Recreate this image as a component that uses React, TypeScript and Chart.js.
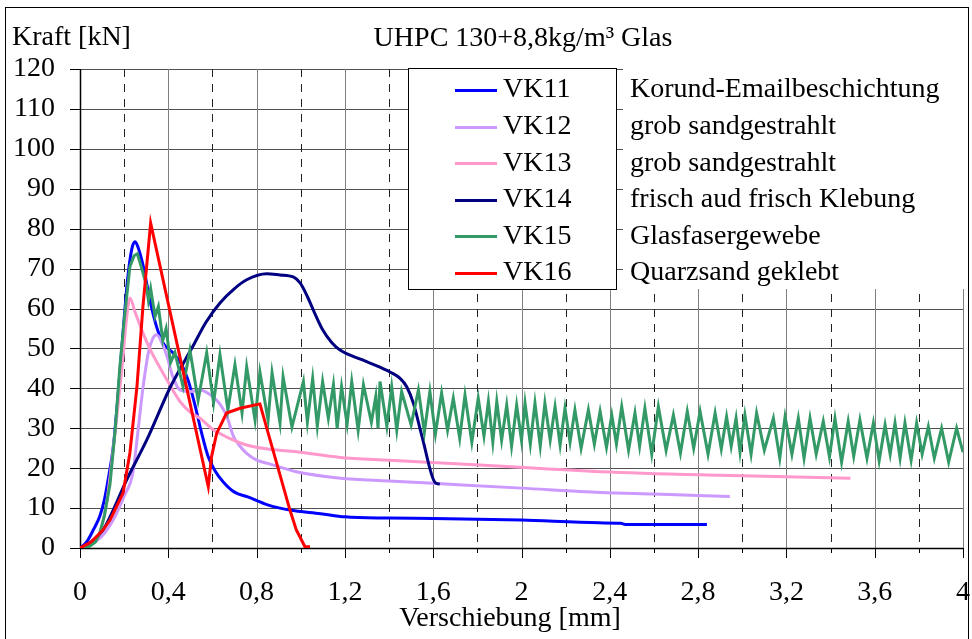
import React, { useEffect, useRef } from 'react';
import { Chart, registerables } from 'chart.js';

Chart.register(...registerables);

const FONT = "'Liberation Serif', 'Times New Roman', serif";

const chartTitle = 'UHPC 130+8,8kg/m³ Glas';
const yAxisTitle = 'Kraft [kN]';
const xAxisTitle = 'Verschiebung [mm]';

const seriesLabels = ['VK11', 'VK12', 'VK13', 'VK14', 'VK15', 'VK16'];
const seriesNotes = [
  'Korund-Emailbeschichtung',
  'grob sandgestrahlt',
  'grob sandgestrahlt',
  'frisch aud frisch Klebung',
  'Glasfasergewebe',
  'Quarzsand geklebt',
];
const seriesColors = ['#0000FF', '#CC99FF', '#FF99CC', '#000080', '#339966', '#FF0000'];
const seriesSmooth = [true, true, true, true, false, false];

const xTickLabels = ['0', '0,4', '0,8', '1,2', '1,6', '2', '2,4', '2,8', '3,2', '3,6', '4'];
const yTickLabels = ['0', '10', '20', '30', '40', '50', '60', '70', '80', '90', '100', '110', '120'];

// VK11
const vk11X = [0, 0.03, 0.06, 0.09, 0.11, 0.13, 0.15, 0.175, 0.195, 0.215, 0.235, 0.25, 0.265, 0.287, 0.317, 0.347, 0.377, 0.423, 0.46, 0.49, 0.52, 0.55, 0.58, 0.61, 0.65, 0.7, 0.76, 0.85, 0.95, 1.09, 1.2, 1.4, 1.6, 2.0, 2.35, 2.45, 2.47, 2.84];
const vk11Y = [0, 1.5, 4.5, 8, 12, 18, 25, 40, 54, 67, 75, 76.7, 75, 70.5, 62, 55.4, 51.3, 48.8, 46, 42, 36, 29, 23, 19.5, 16.5, 14, 12.8, 10.8, 9.5, 8.6, 7.8, 7.5, 7.4, 7, 6.3, 6.2, 5.9, 5.9];

// VK12
const vk12X = [0, 0.05, 0.1, 0.15, 0.2, 0.24, 0.26, 0.285, 0.31, 0.33, 0.348, 0.37, 0.394, 0.42, 0.453, 0.5, 0.544, 0.6, 0.635, 0.665, 0.695, 0.725, 0.755, 0.8, 0.85, 0.98, 1.18, 1.4, 1.6, 2.0, 2.36, 2.6, 2.944];
const vk12Y = [0, 1, 3, 7, 13, 19, 28, 40, 49, 52.5, 53.4, 51.5, 48, 43, 39.6, 39.2, 39.6, 38, 36, 33, 28, 25.5, 23.7, 22, 21.2, 19.1, 17.5, 16.8, 16.2, 15, 13.9, 13.5, 12.9];

// VK13
const vk13X = [0, 0.05, 0.09, 0.12, 0.15, 0.19, 0.21, 0.226, 0.25, 0.285, 0.32, 0.36, 0.4, 0.453, 0.5, 0.544, 0.604, 0.665, 0.755, 0.85, 0.981, 1.178, 1.4, 1.81, 2.36, 2.9, 3.49];
const vk13Y = [0, 1, 4, 11, 24.6, 45, 57, 62.6, 59, 53.9, 49.5, 45.4, 41.5, 36.7, 34, 32.5, 29.6, 27.8, 25.8, 24.8, 24.1, 22.7, 22, 20.8, 19.1, 18.2, 17.5];

// VK14
const vk14X = [0, 0.05, 0.104, 0.136, 0.211, 0.302, 0.41, 0.51, 0.57, 0.634, 0.7, 0.755, 0.846, 0.906, 0.966, 0.997, 1.03, 1.057, 1.1, 1.14, 1.178, 1.28, 1.35, 1.404, 1.45, 1.48, 1.51, 1.55, 1.61, 1.63];
const vk14Y = [0, 1.5, 4.5, 7.8, 17, 27, 40.4, 50.4, 56.5, 61.4, 65, 67.2, 68.7, 68.4, 67.9, 66.4, 63, 59.6, 54.6, 51.5, 49.6, 47.1, 45.5, 44.1, 42.5, 40.4, 36.3, 27.8, 16.3, 16];

// VK15
const vk15X = [
  0, 0.04, 0.07, 0.09, 0.11, 0.136, 0.16, 0.18, 0.2, 0.226, 0.245, 0.26, 0.28, 0.3, 0.31, 0.32, 0.34, 0.355, 0.375, 0.39, 0.41, 0.43, 0.467,
  0.498, 0.535, 0.574, 0.605, 0.634, 0.67, 0.702, 0.734, 0.755, 0.793, 0.815, 0.852, 0.87, 0.906, 0.92, 0.96,
  1.012, 1.03, 1.054, 1.075, 1.099, 1.125, 1.148, 1.165, 1.185, 1.21, 1.231, 1.26, 1.284, 1.32, 1.34, 1.35, 1.359, 1.39,
  1.412, 1.435, 1.457, 1.5, 1.533, 1.56, 1.585, 1.61, 1.638, 1.665, 1.691, 1.72, 1.744, 1.775, 1.804, 1.83, 1.85, 1.87,
  1.888, 1.91, 1.933, 1.955, 1.978, 2.0, 2.016, 2.04, 2.061, 2.085, 2.106, 2.13, 2.152, 2.175, 2.197, 2.22, 2.242, 2.27,
  2.303, 2.33, 2.356, 2.385, 2.409, 2.43, 2.454, 2.485, 2.514, 2.535, 2.559, 2.59, 2.62, 2.655, 2.688, 2.72, 2.751, 2.78,
  2.809, 2.845, 2.877, 2.905, 2.929, 2.95, 2.972, 2.99, 3.012, 3.04, 3.065, 3.1, 3.141, 3.17, 3.194, 3.225, 3.254, 3.28,
  3.307, 3.335, 3.367, 3.395, 3.42, 3.45, 3.48, 3.505, 3.533, 3.565, 3.594, 3.62, 3.647, 3.67, 3.692, 3.715, 3.737, 3.765,
  3.79, 3.815, 3.843, 3.87, 3.903, 3.935, 3.971, 4.0,
];
const vk15Y = [
  0, 0.3, 1.5, 3.8, 8, 16, 30, 45, 57, 70.5, 73.2, 73.7, 70, 66, 62, 65, 58, 60.5, 52, 55, 46.4, 49, 40.4,
  49.6, 37, 48.9, 36.3, 48.4, 34.6, 45.9, 33.8, 45.4, 32, 44.1, 32, 43.9, 31.3, 42.9, 30.3,
  41.7, 31.5, 42.5, 30.5, 41.7, 32.5, 40.9, 30, 40.4, 31, 41.7, 29.5, 40.9, 31.5, 38, 30, 41.7, 30.5,
  40.4, 29.5, 39.2, 30.8, 39.6, 29, 39.2, 28.5, 38.8, 29.5, 37.5, 27.5, 38.3, 26.5, 37.5, 28, 36.7, 26.5,
  36.7, 27, 35.8, 25.5, 35.8, 27, 36.3, 26, 36.3, 25.5, 36.3, 27, 35.4, 25.8, 35, 26.5, 34.6, 25,
  34.6, 26, 34.2, 25.2, 33.3, 26, 35.4, 24.5, 33.8, 25.5, 35, 23.5, 35.4, 24.5, 33.3, 23.8, 34.2, 25,
  34.2, 23.5, 33.8, 24.8, 32.9, 25.5, 32.5, 24, 33.3, 23.5, 33.8, 24.5, 32.5, 22.5, 32.9, 23.5, 32.5, 22.5,
  32.5, 23.5, 31.7, 22.8, 32.5, 21.5, 31.7, 23, 32.1, 22.5, 31.3, 21.8, 30.8, 23.5, 31.3, 22.5, 31.3, 22,
  31.3, 23.5, 30.4, 22.5, 30, 21.5, 30, 24,
];

// VK16
const vk16X = [0, 0.05, 0.104, 0.136, 0.195, 0.226, 0.258, 0.285, 0.32, 0.581, 0.596, 0.619, 0.664, 0.725, 0.815, 0.951, 0.98, 1.019, 1.042];
const vk16Y = [0, 1.5, 4.5, 7, 13.8, 23.8, 40.4, 60.4, 81.4, 15.4, 22.9, 28.7, 33.8, 35, 36.1, 9.5, 4.5, 0.3, 0.3];

const seriesX = [vk11X, vk12X, vk13X, vk14X, vk15X, vk16X];
const seriesY = [vk11Y, vk12Y, vk13Y, vk14Y, vk15Y, vk16Y];

export default function App() {
  const ref = useRef<HTMLCanvasElement>(null);

  useEffect(() => {
    const canvas = ref.current;
    if (!canvas) return;

    const datasets = seriesLabels.map((label, i) => ({
      label,
      data: seriesX[i].map((x, j) => ({ x, y: seriesY[i][j] })),
      borderColor: seriesColors[i],
      backgroundColor: seriesColors[i],
      borderWidth: 3,
      pointRadius: 0,
      tension: 0,
      cubicInterpolationMode: seriesSmooth[i] ? 'monotone' : 'default',
      fill: false,
      order: seriesLabels.length - i,
    }));

    const gridPlugin = {
      id: 'customGrid',
      beforeDatasetsDraw(chart: any) {
        const ctx = chart.ctx;
        const { left, right, top, bottom } = chart.chartArea;
        const xs = chart.scales.x;
        const ys = chart.scales.y;
        ctx.save();
        ctx.lineWidth = 1;
        ys.ticks.forEach((t: any) => {
          const py = Math.round(ys.getPixelForValue(t.value)) + 0.5;
          ctx.strokeStyle = '#505050';
          ctx.setLineDash([]);
          ctx.beginPath();
          ctx.moveTo(left, py);
          ctx.lineTo(right, py);
          ctx.stroke();
          ctx.strokeStyle = '#000';
          ctx.beginPath();
          ctx.moveTo(left - 10, py);
          ctx.lineTo(left, py);
          ctx.stroke();
        });
        xs.ticks.forEach((t: any, i: number) => {
          const px = Math.round(xs.getPixelForValue(t.value)) + 0.5;
          if (i % 2 === 0) {
            ctx.strokeStyle = '#808080';
            ctx.setLineDash([]);
          } else {
            ctx.strokeStyle = '#222';
            ctx.setLineDash([8, 7]);
          }
          ctx.beginPath();
          ctx.moveTo(px, top);
          ctx.lineTo(px, bottom);
          ctx.stroke();
          ctx.setLineDash([]);
          ctx.strokeStyle = '#000';
          ctx.beginPath();
          ctx.moveTo(px, bottom);
          ctx.lineTo(px, bottom + (i % 2 === 0 ? 10 : 5));
          ctx.stroke();
        });
        ctx.strokeStyle = '#000';
        ctx.lineWidth = 1.5;
        ctx.beginPath();
        ctx.moveTo(left + 0.5, top);
        ctx.lineTo(left + 0.5, bottom);
        ctx.moveTo(left, bottom + 0.5);
        ctx.lineTo(right, bottom + 0.5);
        ctx.stroke();
        ctx.restore();
      },
    };

    const overlayPlugin = {
      id: 'overlay',
      afterDraw(chart: any) {
        const ctx = chart.ctx;
        ctx.save();
        // legend box
        ctx.fillStyle = '#fff';
        ctx.fillRect(408, 68, 209, 222);
        ctx.strokeStyle = '#000';
        ctx.lineWidth = 1;
        ctx.strokeRect(408.5, 68.5, 208, 221);
        // notes area
        ctx.fillStyle = '#fff';
        ctx.fillRect(623, 60, 344, 229);

        ctx.font = `28px ${FONT}`;
        ctx.textBaseline = 'middle';
        ctx.textAlign = 'left';
        chart.data.datasets.forEach((ds: any, i: number) => {
          const y = 90 + i * 36.6;
          ctx.strokeStyle = ds.borderColor;
          ctx.lineWidth = 3;
          ctx.beginPath();
          ctx.moveTo(455, Math.round(y) + 0.5);
          ctx.lineTo(497, Math.round(y) + 0.5);
          ctx.stroke();
          ctx.fillStyle = '#000';
          ctx.fillText(ds.label, 503, y);
          ctx.fillText(seriesNotes[i], 630, y);
        });

        // titles
        ctx.fillStyle = '#000';
        ctx.textAlign = 'left';
        ctx.fillText(yAxisTitle, 12, 38);
        ctx.textAlign = 'center';
        ctx.fillText(chartTitle, 523, 39);
        ctx.fillText(xAxisTitle, 510, 619);

        // outer frame
        ctx.strokeStyle = '#000';
        ctx.lineWidth = 1;
        ctx.strokeRect(5.5, 7.5, 963, 660);
        ctx.restore();
      },
    };

    const chart = new Chart(canvas, {
      type: 'line',
      data: { datasets: datasets as any },
      options: {
        animation: false,
        responsive: false,
        devicePixelRatio: 1,
        layout: { padding: { left: 0, top: 69, right: 9, bottom: 0 } },
        plugins: {
          legend: { display: false },
          title: { display: false },
          tooltip: { enabled: false },
        },
        scales: {
          x: {
            type: 'linear',
            min: 0,
            max: 4,
            grid: { display: false, drawTicks: false },
            border: { display: false },
            ticks: {
              stepSize: 0.2,
              autoSkip: false,
              maxRotation: 0,
              minRotation: 0,
              padding: 28,
              color: '#000',
              font: { family: FONT, size: 28 },
              callback: (_v: any, i: number) => (i % 2 === 0 ? xTickLabels[i / 2] : ''),
            },
            afterFit: (s: any) => {
              s.height = 91;
              s.paddingLeft = 0;
              s.paddingRight = 0;
            },
          },
          y: {
            type: 'linear',
            min: 0,
            max: 120,
            grid: { display: false, drawTicks: false },
            border: { display: false },
            ticks: {
              stepSize: 10,
              autoSkip: false,
              padding: 25,
              color: '#000',
              font: { family: FONT, size: 28 },
              callback: (_v: any, i: number) => yTickLabels[i],
            },
            afterFit: (s: any) => {
              s.width = 80;
              s.paddingTop = 0;
              s.paddingBottom = 0;
            },
          },
        },
      } as any,
      plugins: [gridPlugin, overlayPlugin],
    });

    return () => chart.destroy();
  }, []);

  return (
    <div style={{ position: 'absolute', left: 0, top: 0, width: 972, height: 639, background: '#fff' }}>
      <canvas ref={ref} width={972} height={639} style={{ display: 'block' }} />
    </div>
  );
}
